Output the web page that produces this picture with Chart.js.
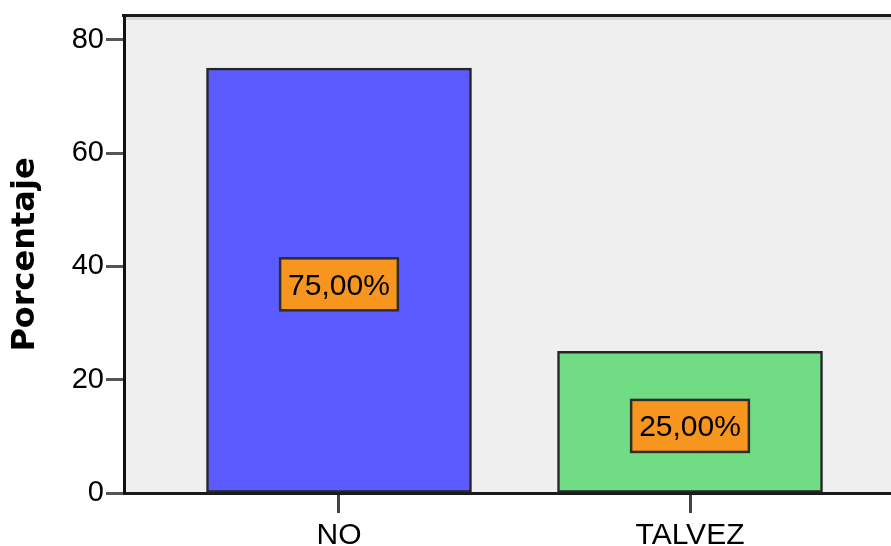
<!DOCTYPE html>
<html>
<head>
<meta charset="utf-8">
<script src="https://cdn.jsdelivr.net/npm/chart.js@4.4.1/dist/chart.umd.min.js"></script>
<style>
  html, body { margin: 0; padding: 0; background: #fff; overflow: hidden; }
  #wrap { width: 891px; height: 546px; position: relative; }
</style>
</head>
<body>
<div id="wrap"><canvas id="chart"></canvas></div>
<script>
var categories = ['NO', 'TALVEZ'];
var percentages = [75, 25];
var barColors = ['#5b5bff', '#70dc84'];
var yTicks = [0, 20, 40, 60, 80];
var yTitle = 'Porcentaje';

// plot background + top frame line
var plotFrame = {
  id: 'plotFrame',
  beforeDraw: function (chart) {
    var a = chart.chartArea, ctx = chart.ctx;
    ctx.save();
    ctx.fillStyle = '#efefef';
    ctx.fillRect(a.left, a.top, a.right - a.left, a.bottom - a.top);
    ctx.fillStyle = '#d8d8d8';
    ctx.fillRect(a.left, a.top + 1, a.right - a.left, 3);
    ctx.fillStyle = '#1a1a1a';
    ctx.fillRect(a.left - 2, a.top - 2, a.right - a.left + 2, 3);
    ctx.restore();
  }
};

// orange value boxes in the middle of each bar
var valueBoxes = {
  id: 'valueBoxes',
  afterDatasetsDraw: function (chart) {
    var ctx = chart.ctx;
    var meta = chart.getDatasetMeta(0);
    ctx.save();
    ctx.font = '30px "Liberation Sans", Arial, sans-serif';
    ctx.textAlign = 'center';
    ctx.textBaseline = 'middle';
    meta.data.forEach(function (bar, i) {
      var txt = percentages[i].toFixed(2).replace('.', ',') + '%';
      var w = ctx.measureText(txt).width + 16;
      var h = 52;
      var cx = bar.x;
      var cy = (bar.y + bar.base) / 2 + 4;
      ctx.fillStyle = '#f7961e';
      ctx.fillRect(cx - w / 2, cy - h / 2, w, h);
      ctx.lineWidth = 2.5;
      ctx.strokeStyle = '#2e2e2e';
      ctx.strokeRect(cx - w / 2, cy - h / 2, w, h);
      ctx.fillStyle = '#000';
      ctx.fillText(txt, cx, cy + 2);
    });
    ctx.restore();
  }
};

new Chart(document.getElementById('chart'), {
  type: 'bar',
  data: {
    datasets: [{
      data: categories.map(function (c, i) { return { x: i, y: percentages[i] }; }),
      backgroundColor: barColors,
      borderColor: '#262626',
      borderWidth: 2.5,
      borderSkipped: false,
      barThickness: 265
    }]
  },
  options: {
    responsive: true,
    maintainAspectRatio: false,
    animation: false,
    layout: { padding: { top: 16, left: 0, right: 0, bottom: 0 } },
    plugins: { legend: { display: false }, tooltip: { enabled: false } },
    scales: {
      x: {
        type: 'linear',
        offset: false,
        min: -0.6125,
        max: 1.5726,
        afterBuildTicks: function (s) {
          s.ticks = categories.map(function (c, i) { return { value: i }; });
        },
        afterFit: function (s) {
          s.height = 53;
          s.paddingLeft = 0;
          s.paddingRight = 0;
        },
        border: { display: true, color: '#1a1a1a', width: 3 },
        grid: { offset: false, drawOnChartArea: false, drawTicks: true, tickLength: 20, tickColor: '#444', tickWidth: 3 },
        ticks: {
          autoSkip: false,
          maxRotation: 0,
          padding: 5,
          color: '#000',
          font: { family: '"Liberation Sans", Arial, sans-serif', size: 30 },
          callback: function (v) { return categories[v]; }
        }
      },
      y: {
        min: 0,
        max: 84.2,
        afterBuildTicks: function (s) {
          s.ticks = yTicks.map(function (v) { return { value: v }; });
        },
        afterFit: function (s) {
          s.width = 124;
          s.paddingTop = 0;
          s.paddingBottom = 0;
        },
        border: { display: true, color: '#111', width: 3 },
        grid: { drawOnChartArea: false, drawTicks: true, tickLength: 18, tickColor: '#555', tickWidth: 3 },
        ticks: {
          padding: 2,
          color: '#000',
          font: { family: '"Liberation Sans", Arial, sans-serif', size: 29 }
        },
        title: {
          display: true,
          text: yTitle,
          color: '#000',
          padding: { top: 6, bottom: 0 },
          font: { family: '"DejaVu Sans", sans-serif', size: 32, weight: 'bold' }
        }
      }
    }
  },
  plugins: [plotFrame, valueBoxes]
});
</script>
</body>
</html>
